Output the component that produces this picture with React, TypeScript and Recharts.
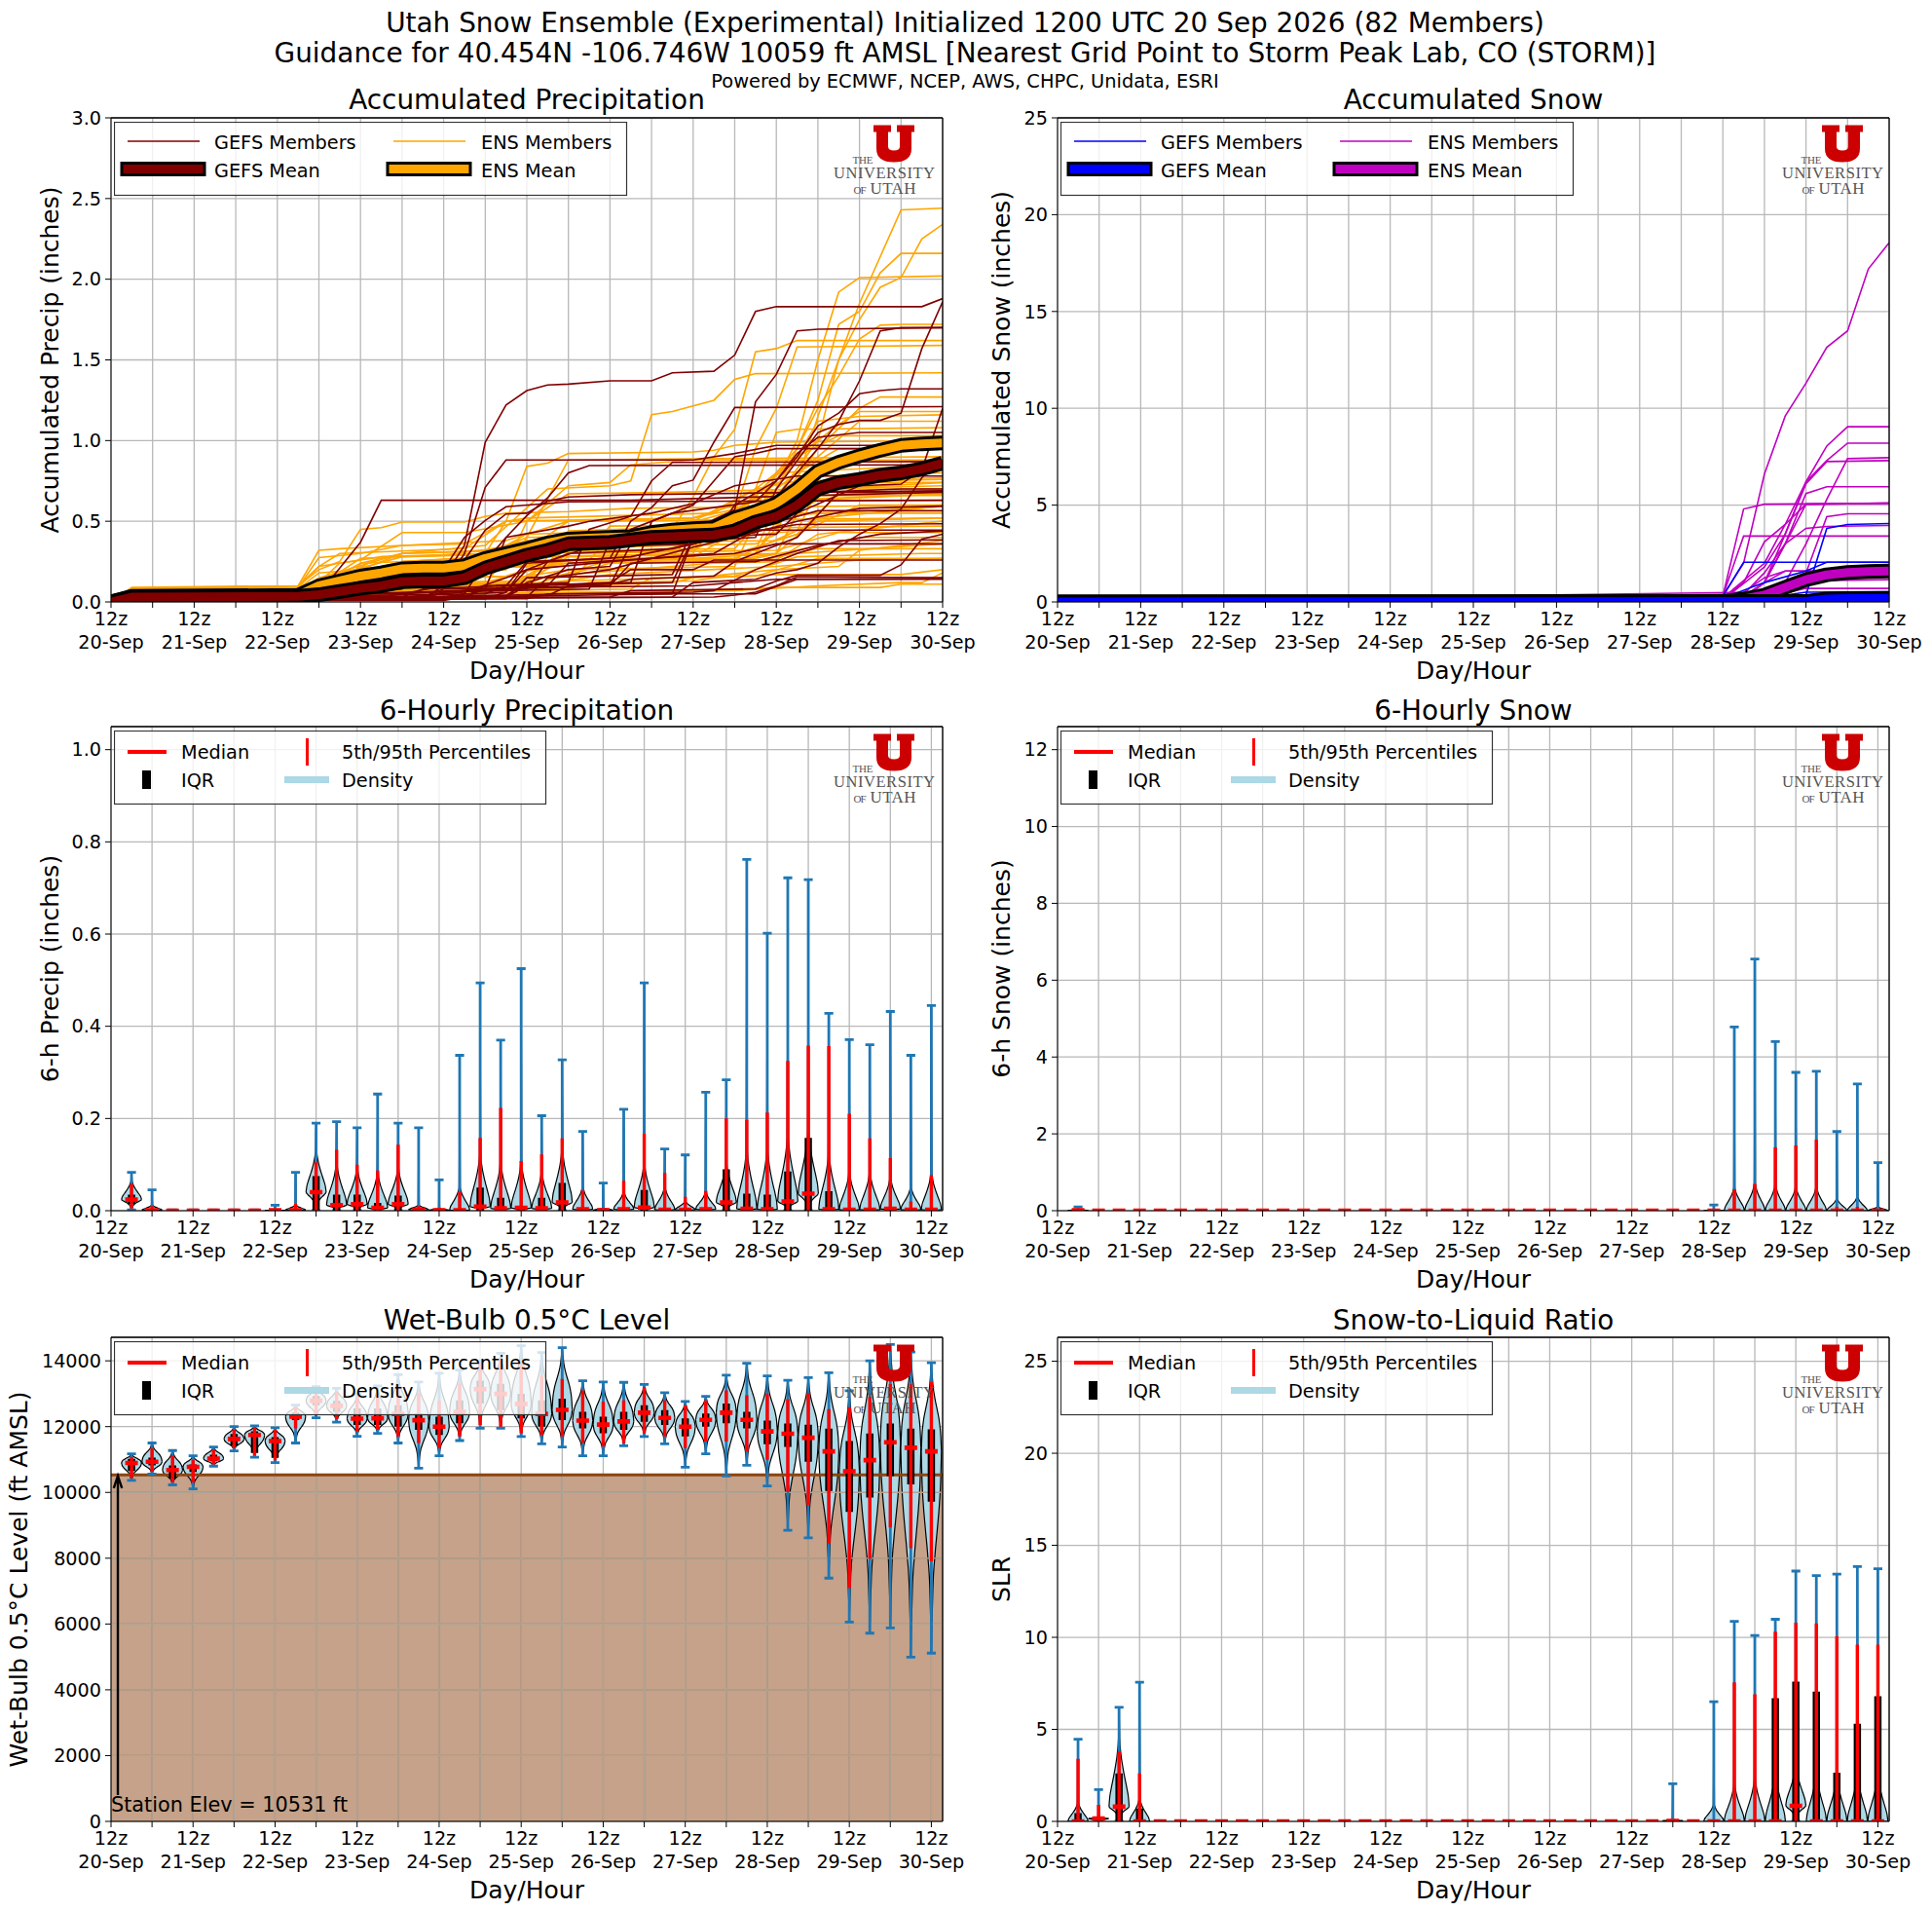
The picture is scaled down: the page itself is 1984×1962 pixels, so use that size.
import React from 'react';
import {
  ComposedChart,
  Line,
  Area,
  XAxis,
  YAxis,
  CartesianGrid,
  ReferenceLine,
  ReferenceArea,
} from 'recharts';

const FONT = '"DejaVu Sans", sans-serif';

const dayLabels = ['20-Sep', '21-Sep', '22-Sep', '23-Sep', '24-Sep', '25-Sep', '26-Sep', '27-Sep', '28-Sep', '29-Sep', '30-Sep'];
const xTicks = [0, 12, 24, 36, 48, 60, 72, 84, 96, 108, 120, 132, 144, 156, 168, 180, 192, 204, 216, 228, 240];
const hours = [6, 12, 18, 24, 30, 36, 42, 48, 54, 60, 66, 72, 78, 84, 90, 96, 102, 108, 114, 120, 126, 132, 138, 144, 150, 156, 162, 168, 174, 180, 186, 192, 198, 204, 210, 216, 222, 228, 234, 240];

// members are flat lists: hour, value, hour, value...
const gefsPrecip = [
  [0, 0, 6, .03, 54, .03, 60, .06, 72, .1, 96, .15, 102, .35, 108, .99, 114, 1.22, 120, 1.31, 126, 1.345, 132, 1.35, 144, 1.37, 156, 1.37, 162, 1.42, 174, 1.43, 180, 1.53, 186, 1.8, 192, 1.83, 234, 1.83, 240, 1.88],
  [0, 0, 6, .03, 54, .03, 60, .05, 72, .37, 78, .63, 150, .63, 240, .68],
  [0, 0, 6, .02, 90, .02, 96, .1, 102, .3, 108, .71, 114, .88, 168, .88, 180, .92, 192, .97, 240, .97],
  [0, 0, 6, .02, 84, .03, 90, .08, 114, .1, 120, .25, 144, .27, 150, .5, 156, .585, 162, .72, 168, .755, 174, .99, 180, 1.205, 240, 1.21],
  [0, 0, 6, .01, 114, .02, 120, .15, 162, .17, 168, .45, 180, .57, 186, 1.24, 192, 1.41, 198, 1.68, 204, 1.69, 240, 1.7],
  [0, 0, 6, .02, 90, .03, 96, .08, 144, .1, 150, .36, 186, .4, 192, .7, 204, 1.05, 210, 1.1, 216, 1.125, 222, 1.125, 228, 1.17, 234, 1.57, 240, 1.86],
  [0, 0, 6, .02, 60, .02, 66, .05, 138, .08, 144, .38, 174, .42, 180, .6, 192, .75, 198, .9, 204, 1.09, 210, 1.17, 216, 1.29, 222, 1.31, 228, 1.32, 240, 1.32],
  [0, 0, 6, .03, 102, .03, 108, .1, 162, .12, 168, .4, 186, .43, 192, .65, 204, .95, 210, 1.12, 216, 1.37, 222, 1.68, 228, 1.7, 240, 1.7],
  [0, 0, 6, .01, 96, .01, 102, .03, 162, .05, 168, .4, 192, .42, 198, .55, 216, .72, 228, .73, 234, .82, 240, 1.2],
  [0, 0, 6, .03, 96, .03, 102, .05, 108, .25, 114, .4, 120, .535, 126, .645, 132, .8, 138, .845, 240, .85],
  [0, 0, 6, .04, 54, .04, 60, .07, 84, .08, 90, .2, 96, .2, 102, .4, 108, .505, 114, .59, 132, .62, 240, .63],
  [0, 0, 6, .03, 78, .03, 84, .05, 96, .1, 102, .26, 108, .445, 114, .545, 120, .55, 126, .625, 132, .65, 150, .665, 240, .69],
  [0, 0, 6, .02, 90, .02, 96, .06, 108, .08, 114, .4, 132, .47, 138, .5, 156, .55, 168, .61, 180, .72, 198, .78, 240, .78],
  [0, 0, 6, .02, 102, .02, 108, .1, 132, .12, 138, .45, 150, .53, 156, .75, 162, .865, 240, .87],
  [0, 0, 6, .01, 174, .03, 180, .042, 186, .06, 192, .1, 198, .155, 240, .15],
  [0, 0, 6, .02, 144, .03, 150, .07, 186, .08, 192, .13, 198, .165, 222, .165, 228, .23, 234, .39, 240, .42],
  [0, 0, 6, .02, 162, .03, 168, .12, 186, .14, 192, .18, 198, .2, 204, .24, 210, .34, 216, .42, 222, .485, 228, .575, 234, .77, 240, .88],
  [0, 0, 6, .03, 114, .03, 120, .1, 144, .12, 150, .2, 168, .2, 174, .26, 240, .26],
  [0, 0, 6, .03, 102, .03, 108, .08, 126, .1, 132, .24, 156, .27, 180, .3, 192, .36, 240, .36],
  [0, 0, 6, .02, 108, .02, 114, .06, 120, .2, 144, .25, 174, .3, 186, .445, 240, .445],
  [0, 0, 6, .03, 84, .03, 90, .04, 102, .06, 114, .15, 132, .3, 162, .33, 180, .42, 198, .48, 240, .484],
  [0, 0, 6, .02, 96, .02, 102, .05, 114, .06, 120, .24, 150, .28, 168, .36, 186, .46, 204, .565, 240, .565],
  [0, 0, 6, .03, 66, .03, 72, .04, 108, .05, 114, .1, 144, .11, 150, .14, 174, .16, 180, .25, 198, .4, 210, .68, 240, .686],
  [0, 0, 6, .02, 54, .02, 60, .03, 72, .05, 84, .05, 120, .09, 168, .1, 192, .14, 240, .143],
  [0, 0, 6, .02, 120, .02, 126, .05, 168, .06, 174, .07, 186, .2, 198, .3, 210, .38, 240, .385],
  [0, 0, 6, .01, 60, .01, 66, .02, 120, .03, 126, .15, 144, .2, 168, .34, 180, .4, 198, .5, 216, .58, 240, .594],
  [0, 0, 6, .02, 84, .02, 90, .03, 114, .04, 120, .12, 132, .2, 144, .22, 150, .45, 162, .55, 186, .62, 192, .75, 198, .92, 204, 1.02, 216, 1.05, 240, 1.05],
  [0, 0, 6, .02, 102, .02, 108, .03, 126, .04, 132, .1, 150, .12, 156, .5, 168, .6, 174, .75, 180, .9, 186, .92, 192, .95, 240, .95],
  [0, 0, 6, .02, 54, .02, 60, .03, 72, .05, 114, .08, 144, .1, 150, .24, 186, .25, 204, .35, 222, .42, 240, .44],
  [0, 0, 6, .03, 90, .03, 96, .06, 120, .08, 126, .25, 138, .34, 168, .36, 192, .5, 204, .68, 228, .7, 240, .7],
  [0, 0, 6, .01, 48, .01, 60, .02, 132, .05, 186, .05, 198, .14, 240, .14],
];

const ensPrecip = [
  [0, 0, 6, .08, 54, .1, 60, .22, 66, .3, 102, .33, 114, .5, 120, .52, 174, .55, 186, .7, 198, .9, 204, 1, 210, 1.5, 216, 1.85, 222, 2.14, 228, 2.43, 240, 2.44],
  [0, 0, 6, .08, 54, .1, 60, .32, 66, .33, 84, .35, 102, .36, 114, .5, 168, .52, 186, .6, 198, .75, 204, 1.15, 210, 1.5, 216, 1.75, 222, 1.95, 228, 2.01, 234, 2.25, 240, 2.34],
  [0, 0, 6, .06, 54, .08, 60, .18, 72, .2, 84, .3, 108, .32, 120, .38, 156, .4, 174, .45, 186, .65, 198, .95, 204, 1.25, 210, 1.72, 216, 1.8, 222, 2.04, 228, 2.16, 240, 2.16],
  [0, 0, 6, .05, 54, .08, 66, .15, 78, .28, 108, .3, 120, .4, 168, .42, 186, .6, 192, .75, 198, 1, 204, 1.5, 210, 1.92, 216, 2.01, 240, 2.02],
  [0, 0, 6, .05, 54, .06, 60, .1, 72, .2, 102, .22, 114, .25, 168, .28, 186, .5, 192, .7, 204, 1.2, 210, 1.4, 216, 1.63, 222, 1.715, 228, 1.72, 240, 1.72],
  [0, 0, 6, .07, 54, .07, 60, .12, 84, .25, 108, .28, 120, .42, 162, .45, 168, .65, 174, .9, 180, 1.07, 186, 1.55, 192, 1.57, 198, 1.62, 240, 1.62],
  [0, 0, 6, .06, 54, .06, 60, .15, 84, .3, 108, .35, 126, .7, 144, .72, 150, .75, 156, 1.16, 162, 1.18, 168, 1.215, 174, 1.25, 180, 1.38, 186, 1.415, 240, 1.42],
  [0, 0, 6, .05, 54, .05, 66, .12, 102, .14, 120, .3, 168, .32, 180, .55, 186, .95, 192, 1.2, 198, 1.58, 240, 1.59],
  [0, 0, 6, .04, 54, .04, 72, .1, 120, .12, 132, .3, 186, .32, 192, .6, 204, .95, 216, 1.2, 222, 1.27, 240, 1.27],
  [0, 0, 6, .05, 54, .05, 66, .08, 108, .1, 114, .3, 168, .32, 180, .45, 192, .65, 204, 1, 210, 1.1, 216, 1.18, 240, 1.18],
  [0, 0, 6, .05, 54, .05, 60, .1, 84, .2, 126, .22, 132, .35, 174, .38, 180, .55, 198, .9, 204, 1.12, 216, 1.15, 240, 1.16],
  [0, 0, 6, .04, 66, .04, 72, .1, 120, .12, 126, .28, 168, .3, 174, .5, 192, .7, 204, .9, 216, 1.12, 240, 1.12],
  [0, 0, 6, .06, 54, .06, 60, .12, 90, .14, 96, .24, 138, .26, 144, .4, 180, .42, 186, .7, 192, 1.05, 198, 1.07, 240, 1.08],
  [0, 0, 6, .05, 60, .05, 66, .12, 102, .14, 108, .25, 162, .27, 168, .45, 192, .7, 198, .9, 210, 1.03, 240, 1.03],
  [0, 0, 6, .06, 54, .06, 60, .14, 84, .28, 126, .3, 132, .4, 174, .42, 180, .6, 198, .8, 210, .95, 240, .95],
  [0, 0, 6, .05, 54, .05, 60, .1, 90, .12, 96, .2, 108, .3, 114, .5, 120, .84, 126, .86, 132, .92, 168, .93, 174, .94, 180, .97, 186, .98, 192, .99, 240, 1],
  [0, 0, 6, .05, 60, .05, 66, .1, 90, .12, 96, .18, 114, .2, 120, .4, 132, .88, 240, .9],
  [0, 0, 6, .07, 54, .07, 60, .1, 84, .12, 90, .2, 114, .22, 120, .5, 132, .72, 144, .74, 150, .85, 168, .88, 240, .88],
  [0, 0, 6, .09, 54, .1, 60, .2, 66, .25, 72, .45, 78, .46, 84, .495, 102, .495, 108, .53, 114, .55, 132, .56, 150, .58, 240, .6],
  [0, 0, 6, .08, 54, .09, 60, .275, 72, .3, 84, .35, 114, .38, 132, .5, 240, .52],
  [0, 0, 6, .08, 54, .09, 60, .22, 72, .26, 84, .43, 102, .43, 120, .5, 132, .67, 162, .68, 240, .72],
  [0, 0, 6, .07, 54, .07, 60, .12, 66, .24, 78, .28, 120, .3, 138, .32, 180, .33, 192, .62, 240, .67],
  [0, 0, 6, .06, 54, .06, 60, .1, 72, .24, 84, .3, 120, .32, 132, .5, 168, .52, 192, .68, 240, .74],
  [0, 0, 6, .06, 54, .06, 60, .1, 78, .2, 120, .22, 126, .25, 150, .27, 186, .3, 204, .78, 240, .8],
  [0, 0, 6, .05, 60, .05, 66, .1, 84, .14, 120, .16, 132, .2, 180, .22, 192, .8, 240, .85],
  [0, 0, 6, .05, 66, .05, 72, .1, 108, .12, 132, .26, 168, .27, 192, .3, 198, .54, 240, .59],
  [0, 0, 6, .06, 72, .06, 78, .12, 120, .13, 132, .28, 192, .3, 204, .52, 240, .594],
  [0, 0, 6, .04, 54, .04, 60, .06, 84, .1, 132, .12, 138, .25, 180, .27, 204, .5, 240, .52],
  [0, 0, 6, .05, 78, .05, 84, .08, 120, .1, 144, .24, 192, .26, 204, .42, 240, .5],
  [0, 0, 6, .04, 66, .04, 72, .06, 114, .08, 132, .3, 192, .32, 210, .43, 240, .43],
  [0, 0, 6, .05, 90, .05, 96, .07, 120, .08, 126, .14, 144, .26, 186, .27, 216, .4, 240, .4],
  [0, 0, 6, .04, 78, .04, 84, .06, 126, .08, 132, .1, 162, .12, 168, .15, 192, .2, 210, .22, 216, .32, 240, .38],
  [0, 0, 6, .05, 60, .05, 66, .07, 114, .09, 126, .24, 186, .25, 204, .33, 240, .33],
  [0, 0, 6, .04, 84, .04, 90, .06, 126, .08, 132, .13, 180, .16, 198, .28, 234, .3, 240, .3],
  [0, 0, 6, .03, 72, .03, 78, .05, 120, .06, 126, .07, 150, .08, 156, .15, 186, .16, 204, .27, 240, .27],
  [0, 0, 6, .03, 84, .03, 90, .05, 156, .06, 192, .09, 222, .09, 228, .11, 240, .11],
  [0, 0, 6, .03, 90, .03, 96, .05, 180, .07, 204, .1, 228, .12, 234, .12, 240, .18],
  [0, 0, 6, .04, 54, .04, 60, .1, 72, .27, 96, .29, 114, .34, 138, .37, 192, .38, 198, .42, 210, .67, 240, .68],
  [0, 0, 6, .05, 54, .05, 60, .08, 72, .16, 108, .18, 126, .35, 162, .37, 198, .44, 204, .7, 240, .7],
  [0, 0, 6, .04, 60, .04, 72, .16, 90, .18, 108, .2, 114, .31, 144, .34, 186, .36, 192, .42, 198, .74, 240, .76],
  [0, 0, 6, .05, 72, .05, 78, .2, 96, .22, 120, .25, 144, .27, 150, .29, 186, .3, 192, .5, 204, .63, 240, .63],
  [0, 0, 6, .04, 60, .04, 66, .12, 84, .25, 102, .27, 126, .3, 132, .42, 162, .44, 168, .5, 186, .7, 198, .75, 240, .77],
  [0, 0, 6, .05, 66, .05, 72, .24, 96, .26, 126, .28, 132, .44, 162, .46, 186, .6, 204, .74, 240, .74],
  [0, 0, 6, .06, 54, .06, 60, .09, 78, .16, 102, .18, 108, .3, 120, .32, 126, .4, 150, .43, 186, .45, 204, .64, 240, .67],
  [0, 0, 6, .05, 60, .05, 66, .1, 102, .12, 120, .28, 180, .3, 198, .42, 216, .6, 240, .6],
  [0, 0, 6, .03, 66, .03, 72, .08, 120, .1, 144, .17, 192, .22, 216, .26, 240, .27],
  [0, 0, 6, .04, 78, .04, 84, .1, 120, .11, 126, .16, 150, .2, 174, .24, 192, .25, 198, .3, 240, .36],
  [0, 0, 6, .03, 72, .03, 78, .07, 132, .08, 138, .12, 168, .13, 174, .15, 192, .17, 228, .17, 240, .2],
  [0, 0, 6, .05, 54, .05, 60, .08, 84, .16, 108, .18, 114, .22, 126, .24, 132, .37, 174, .38, 192, .46, 240, .47],
  [0, 0, 6, .04, 60, .04, 66, .09, 96, .15, 114, .16, 120, .2, 132, .24, 180, .26, 192, .3, 198, .55, 240, .55],
  [0, 0, 6, .06, 54, .06, 60, .11, 84, .22, 114, .24, 120, .3, 138, .32, 144, .47, 192, .48, 204, .66, 240, .66],
];

const gefsPrecipMean = [0, .0, 6, .03, 54, .035, 60, .045, 66, .065, 72, .085, 78, .1, 84, .125, 90, .13, 96, .13, 102, .15, 108, .21, 114, .25, 120, .29, 126, .32, 132, .36, 138, .365, 144, .37, 150, .385, 156, .4, 162, .405, 168, .41, 174, .415, 180, .44, 186, .495, 192, .53, 198, .6, 204, .7, 210, .74, 216, .76, 222, .785, 228, .8, 234, .825, 240, .86];
const ensPrecipMean = [0, .0, 6, .035, 54, .04, 60, .1, 66, .13, 72, .16, 78, .18, 84, .205, 90, .21, 96, .21, 102, .225, 108, .27, 114, .3, 120, .33, 126, .365, 132, .39, 138, .395, 144, .4, 150, .405, 156, .43, 162, .445, 168, .455, 174, .46, 180, .52, 186, .56, 192, .61, 198, .7, 204, .81, 210, .865, 216, .905, 222, .94, 228, .97, 234, .98, 240, .985];

const gefsSnow = [
  [0, 0, 192, .3, 198, 2.05, 240, 2.05],
  [0, 0, 216, .35, 222, 3.8, 228, 4, 240, 4.05],
  [0, 0, 192, .2, 204, 1, 216, 1.6, 222, 2.05, 240, 2.05],
  [0, 0, 204, .2, 216, .5, 240, .52],
  [0, 0, 210, .1, 222, .3, 240, .3],
  [0, 0, 216, .1, 228, .2, 240, .2],
];
const ensSnow = [
  [0, 0, 192, .3, 198, 2, 204, 6.6, 210, 9.6, 216, 11.3, 222, 13.15, 228, 14, 234, 17.2, 240, 18.55],
  [0, 0, 192, .2, 204, 2, 210, 4, 216, 6.2, 222, 8.05, 228, 9.05, 240, 9.05],
  [0, 0, 192, .1, 204, 1.8, 210, 3.5, 216, 6.2, 222, 7.3, 228, 8.2, 240, 8.2],
  [0, 0, 204, .2, 210, 1, 216, 3, 222, 5.3, 228, 7.4, 240, 7.45],
  [0, 0, 198, .2, 204, 1, 210, 3.5, 216, 6.1, 222, 7.25, 240, 7.3],
  [0, 0, 198, .2, 204, 1, 210, 3, 216, 5.6, 222, 5.95, 240, 5.95],
  [0, 0, 192, .3, 198, 4.8, 204, 5.05, 240, 5.1],
  [0, 0, 198, .2, 204, 1, 210, 3, 216, 5.05, 240, 5.1],
  [0, 0, 204, .2, 216, 1.5, 222, 4.4, 228, 4.55, 240, 4.55],
  [0, 0, 198, .4, 204, 1.5, 210, 3, 216, 3.8, 222, 3.9, 240, 3.95],
  [0, 0, 192, .3, 198, 3.4, 240, 3.4],
  [0, 0, 192, .2, 198, 1, 204, 3.1, 210, 4, 216, 5.05, 240, 5.1],
  [0, 0, 198, .3, 204, 1, 210, 1.6, 240, 1.6],
  [0, 0, 198, .2, 204, .5, 216, 1.1, 240, 1.15],
  [0, 0, 204, .2, 216, .7, 240, .7],
  [0, 0, 204, .1, 216, .35, 240, .35],
  [0, 0, 198, .5, 204, 1.25, 210, 1.6, 222, 1.6, 240, 1.6],
];
const gefsSnowMean = [0, 0, 216, .03, 222, .15, 228, .18, 240, .19];
const ensSnowMean = [0, 0, 192, .02, 198, .15, 204, .35, 210, .75, 216, 1.15, 222, 1.4, 228, 1.52, 234, 1.57, 240, 1.6];

const precipLo = [.002, 0, 0, 0, 0, 0, 0, 0, 0, 0, 0, 0, 0, 0, 0, 0, 0, 0, 0, 0, 0, 0, 0, 0, 0, 0, 0, 0, 0, 0, 0, 0, 0, 0, 0, 0, 0, 0, 0, 0];
const precipHi = [.083, .045, .002, .002, .002, .002, .002, .012, .083, .19, .193, .18, .253, .19, .18, .067, .337, .494, .37, .525, .206, .327, .172, .06, .22, .494, .134, .121, .257, .284, .762, .602, .722, .718, .428, .371, .36, .432, .337, .445];
const precipQ1 = [.015, 0, 0, 0, 0, 0, 0, 0, 0, .001, 0, 0, 0, 0, 0, 0, 0, 0, 0, 0, 0, 0, 0, 0, 0, 0, 0, 0, 0, 0, 0, 0, 0, 0, 0, 0, 0, 0, 0, 0];
const precipQ3 = [.035, .001, 0, 0, 0, 0, 0, 0, .001, .075, .035, .035, .017, .033, .002, .001, .003, .05, .028, .007, .028, .06, .006, .001, .003, .045, .005, .001, .004, .09, .037, .035, .085, .158, .042, .003, .002, .006, .002, .002];
const precipMed = [.024, .001, 0, 0, 0, 0, 0, .001, .001, .04, .012, .014, .006, .014, .002, .001, .001, .009, .005, .006, .005, .018, .003, .001, .003, .007, .002, .002, .003, .018, .004, .003, .02, .037, .003, .002, .002, .004, .002, .002];
const precipP5 = [.005, 0, 0, 0, 0, 0, 0, 0, 0, 0, 0, 0, 0, 0, 0, 0, 0, 0, 0, 0, 0, 0, 0, 0, 0, 0, 0, 0, 0, 0, 0, 0, 0, 0, 0, 0, 0, 0, 0, 0];
const precipP95 = [.058, .01, 0, 0, 0, 0, 0, .002, .015, .105, .132, .1, .087, .143, .01, .006, .04, .158, .223, .108, .122, .157, .044, .004, .065, .167, .082, .03, .043, .2, .197, .213, .325, .358, .357, .21, .157, .114, .02, .077];
const precipBody = [.065, .012, 0, 0, 0, 0, 0, .001, .012, .13, .1, .09, .08, .09, .012, .005, .05, .12, .1, .1, .08, .13, .05, .006, .04, .1, .05, .02, .04, .1, .13, .13, .16, .17, .12, .08, .08, .07, .05, .08];

const snowLo = [0, 0, 0, 0, 0, 0, 0, 0, 0, 0, 0, 0, 0, 0, 0, 0, 0, 0, 0, 0, 0, 0, 0, 0, 0, 0, 0, 0, 0, 0, 0, 0, 0, 0, 0, 0, 0, 0, 0, 0];
const snowHi = [.1, 0, 0, 0, 0, 0, 0, 0, 0, 0, 0, 0, 0, 0, 0, 0, 0, 0, 0, 0, 0, 0, 0, 0, 0, 0, 0, 0, 0, 0, 0, .15, 4.78, 6.55, 4.4, 3.6, 3.63, 2.06, 3.3, 1.25];
const snowQ3 = [0, 0, 0, 0, 0, 0, 0, 0, 0, 0, 0, 0, 0, 0, 0, 0, 0, 0, 0, 0, 0, 0, 0, 0, 0, 0, 0, 0, 0, 0, 0, 0, 0, .02, .02, .02, .02, .02, .02, .02];
const snowMed = [.01, 0, 0, 0, 0, 0, 0, 0, 0, 0, 0, 0, 0, 0, 0, 0, 0, 0, 0, 0, 0, 0, 0, 0, 0, 0, 0, 0, 0, 0, 0, 0, 0, 0, 0, 0, 0, 0, 0, 0];
const snowP95 = [.02, 0, 0, 0, 0, 0, 0, 0, 0, 0, 0, 0, 0, 0, 0, 0, 0, 0, 0, 0, 0, 0, 0, 0, 0, 0, 0, 0, 0, 0, 0, 0, .55, .7, 1.65, 1.7, 1.85, .1, .1, .05];
const snowBody = [.02, 0, 0, 0, 0, 0, 0, 0, 0, 0, 0, 0, 0, 0, 0, 0, 0, 0, 0, 0, 0, 0, 0, 0, 0, 0, 0, 0, 0, 0, 0, .02, .6, .7, .65, .6, .6, .3, .35, .1];

const wetLo = [10364, 10558, 10230, 10109, 10800, 11261, 11067, 10909, 11503, 12267, 12133, 11709, 11794, 11503, 10739, 11115, 11576, 11952, 11952, 11697, 11479, 11382, 11115, 11115, 11418, 11697, 11479, 10764, 11176, 10497, 10824, 10194, 8848, 8618, 7394, 6061, 5721, 5879, 4994, 5115];
const wetHi = [11176, 11503, 11273, 11115, 11382, 12000, 12024, 11964, 12655, 13212, 13164, 12980, 13236, 13576, 13358, 13624, 13721, 14000, 14230, 14460, 14255, 14400, 13394, 13358, 13345, 13285, 13030, 12764, 12921, 13564, 13927, 13539, 13406, 13491, 13636, 13091, 14000, 14497, 14267, 13939];
const wetQ1 = [10650, 10820, 10420, 10620, 10950, 11430, 11200, 11050, 12200, 12650, 12450, 12050, 12050, 12000, 11900, 11750, 12100, 12700, 12500, 12250, 12000, 12200, 11950, 11800, 11900, 12150, 12050, 11700, 12000, 12100, 11950, 11467, 11382, 10933, 10048, 9406, 9842, 10497, 10242, 9721];
const wetQ3 = [11020, 11060, 10820, 10850, 11150, 11780, 11860, 11680, 12430, 12930, 12780, 12550, 12550, 12650, 12400, 12300, 12800, 13400, 13300, 13000, 12800, 12850, 12450, 12300, 12450, 12650, 12500, 12250, 12400, 12700, 12450, 12182, 12097, 12060, 11940, 11564, 11794, 12097, 11940, 11915];
const wetMed = [10897, 10933, 10679, 10776, 11030, 11624, 11745, 11564, 12303, 12788, 12630, 12242, 12255, 12388, 12194, 12000, 12448, 13139, 12994, 12691, 12388, 12509, 12182, 12061, 12158, 12424, 12267, 12000, 12206, 12424, 12206, 11855, 11782, 11661, 11248, 10642, 10982, 11527, 11358, 11248];
const wetP5 = [10430, 10620, 10300, 10300, 10850, 11350, 11120, 10980, 11950, 12350, 12230, 11850, 11900, 11700, 11500, 11350, 11700, 12050, 12000, 11800, 11750, 11700, 11500, 11400, 11500, 11800, 11700, 11350, 11550, 11550, 11250, 10994, 10012, 9624, 8448, 7090, 7988, 8933, 8303, 7903];
const wetP95 = [11080, 11350, 11120, 10990, 11300, 11900, 11980, 11900, 12600, 13080, 13050, 12900, 13000, 13200, 13000, 12800, 13300, 13950, 14050, 13900, 13550, 13450, 13100, 12750, 12800, 13200, 12800, 12650, 12800, 13100, 12950, 12994, 12836, 13018, 12533, 12594, 12909, 13297, 13285, 13358];

const slrLo = [0, 0, 0, 0, 0, 0, 0, 0, 0, 0, 0, 0, 0, 0, 0, 0, 0, 0, 0, 0, 0, 0, 0, 0, 0, 0, 0, 0, 0, 0, 0, 0, 0, 0, 0, 0, 0, 0, 0, 0];
const slrHi = [4.46, 1.73, 6.2, 7.56, 0, 0, 0, 0, 0, 0, 0, 0, 0, 0, 0, 0, 0, 0, 0, 0, 0, 0, 0, 0, 0, 0, 0, 0, 0, 2.04, 0, 6.5, 10.87, 10.1, 10.98, 13.6, 13.36, 13.43, 13.84, 13.73];
const slrQ3 = [.45, 0, 2.6, .7, 0, 0, 0, 0, 0, 0, 0, 0, 0, 0, 0, 0, 0, 0, 0, 0, 0, 0, 0, 0, 0, 0, 0, 0, 0, 0, 0, 0, 0, 0, 6.7, 7.6, 7.05, 2.65, 5.3, 6.8];
const slrMed = [0, .15, .8, 0, 0, 0, 0, 0, 0, 0, 0, 0, 0, 0, 0, 0, 0, 0, 0, 0, 0, 0, 0, 0, 0, 0, 0, 0, 0, .03, 0, 0, 0, 0, 0, .85, 0, 0, 0, 0];
const slrP95 = [3.4, .9, 3.8, 2.6, 0, 0, 0, 0, 0, 0, 0, 0, 0, 0, 0, 0, 0, 0, 0, 0, 0, 0, 0, 0, 0, 0, 0, 0, 0, .05, 0, .1, 7.55, 6.9, 10.3, 10.8, 10.75, 10.05, 9.6, 9.6];
const slrBody = [1, .2, 4.5, 1.2, 0, 0, 0, 0, 0, 0, 0, 0, 0, 0, 0, 0, 0, 0, 0, 0, 0, 0, 0, 0, 0, 0, 0, 0, 0, .1, 0, .9, 2, 2.3, 2.6, 3, 2.6, 2.4, 2.5, 2.5];

const stationElev = 10531;
const arrowShaft = [{ x: 2, y: 800 }, { x: 2, y: 10400 }];
const arrowHead = [{ x: .8, y: 10130 }, { x: 2, y: 10500 }, { x: 3.2, y: 10130 }];
const wetGridX = [12, 24, 36, 48, 60, 72, 84, 96, 108, 120, 132, 144, 156, 168, 180, 192, 204, 216, 228, 240];
const wetGridY = [2000, 4000, 6000, 8000, 10000];

// violin outline, as fractions of the half width and of the distance from the widest level
const widthSteps = [0, .06, .15, .35, .6, .8, .93, 1];
const spikeTop = [1, 1, .82, .6, .4, .25, .13, 0];
const spikeBottom = [1, .85, .6, .4, .24, .14, .06, 0];
const spindleTop = [1, .9, .76, .6, .46, .33, .18, 0];
const spindleBottom = [1, .85, .68, .52, .38, .26, .14, 0];

const toPoints = (flat: number[]) => {
  const out: { x: number; y: number }[] = [];
  for (let i = 0; i < flat.length; i += 2) out.push({ x: flat[i], y: flat[i + 1] });
  return out;
};

type ViolinSet = {
  lo: number[]; hi: number[]; q1: number[]; q3: number[]; med: number[]; p5: number[]; p95: number[];
  body?: number[]; spindle?: boolean;
};

const buildOutlines = (s: ViolinSet) => {
  const rows: { x: number; r: (number | null)[] }[] = [];
  const last = widthSteps.length - 1;
  hours.forEach((h, i) => {
    const hi = s.hi[i], lo = s.lo[i], peak = s.med[i];
    const body = s.spindle ? hi : (s.body as number[])[i];
    if (body <= 0) return;
    const half = 2.95;
    const top = s.spindle ? spindleTop : spikeTop;
    const bottom = s.spindle ? spindleBottom : spikeBottom;
    for (let k = -last; k <= last; k++) {
      const a = Math.abs(k);
      const sign = k < 0 ? -1 : 1;
      const upper = a === 0 ? hi : peak + (body - peak) * top[a];
      const lower = peak - (peak - lo) * bottom[a];
      rows.push({ x: h + sign * widthSteps[a] * half, r: [lower, upper] });
    }
    rows.push({ x: h + 3, r: [null, null] });
  });
  return rows;
};

const segments = (pairs: [number, number, number, number][]) => {
  const rows: { x: number; y: number | null }[] = [];
  pairs.forEach(([x1, y1, x2, y2]) => {
    rows.push({ x: x1, y: y1 }, { x: x2, y: y2 }, { x: x2, y: null });
  });
  return rows;
};

const XTick = ({ x, y, payload }: any) => {
  if (payload.value % 24 !== 0) return <g />;
  return (
    <g fontFamily={FONT} fontSize={19.2} fill="#000" textAnchor="middle">
      <text x={x} y={y + 16}>12z</text>
      <text x={x} y={y + 40}>{dayLabels[payload.value / 24]}</text>
    </g>
  );
};

const PLOT_W = 854;
const PLOT_H = 497;
const AXIS_W = 114;
const MARGIN_TOP = 16;

function Frame({
  left, plotTop, xMax, yMax, yTicks, yLabel, labelX, tickFmt, children,
}: any) {
  return (
    <div style={{ position: 'absolute', left, top: plotTop - MARGIN_TOP }}>
      <ComposedChart
        width={AXIS_W + PLOT_W + 40}
        height={MARGIN_TOP + PLOT_H + 90}
        margin={{ top: MARGIN_TOP, right: 40, left: 0, bottom: 0 }}
      >
        <CartesianGrid stroke="#b8b8b8" strokeWidth={1.3} />
        <XAxis
          dataKey="x"
          type="number"
          domain={[0, xMax]}
          allowDataOverflow
          ticks={xTicks}
          interval={0}
          height={90}
          tick={XTick}
          tickSize={6}
          stroke="#000"
          label={{ value: 'Day/Hour', position: 'insideBottom', offset: 11.5, fontSize: 25, fontFamily: FONT, fill: '#000' }}
        />
        <YAxis
          type="number"
          domain={[0, yMax]}
          allowDataOverflow
          ticks={yTicks}
          interval={0}
          width={AXIS_W}
          tickSize={6}
          tickMargin={4}
          stroke="#000"
          tickFormatter={tickFmt}
          tick={{ fontSize: 19.2, fontFamily: FONT, fill: '#000' }}
          label={{
            value: yLabel, angle: -90, position: 'insideLeft', offset: labelX, fontSize: 25, fontFamily: FONT, fill: '#000',
            style: { textAnchor: 'middle' },
          }}
        />
        {children}
        <ReferenceLine x={xMax} stroke="#000" strokeWidth={1.3} />
        <ReferenceLine y={yMax} stroke="#000" strokeWidth={1.3} />
      </ComposedChart>
    </div>
  );
}

const memberLines = (members: number[][], color: string, tag: string) =>
  members.map((m, i) => (
    <Line key={tag + i} data={toPoints(m)} dataKey="y" stroke={color} strokeWidth={1.6} dot={false} isAnimationActive={false} />
  ));

const meanLine = (mean: number[], color: string, tag: string) => [
  <Line key={tag + 'edge'} data={toPoints(mean)} dataKey="y" stroke="#000" strokeWidth={15} strokeLinejoin="round" dot={false} isAnimationActive={false} />,
  <Line key={tag + 'fill'} data={toPoints(mean)} dataKey="y" stroke={color} strokeWidth={9} strokeLinejoin="round" dot={false} isAnimationActive={false} />,
];

const violinMarks = (s: ViolinSet) => {
  const cap = 1.3;
  const medHalf = 1.85;
  const blue: [number, number, number, number][] = [];
  const iqr: [number, number, number, number][] = [];
  const range: [number, number, number, number][] = [];
  const med: [number, number, number, number][] = [];
  hours.forEach((h, i) => {
    if (s.hi[i] > s.lo[i]) {
      blue.push([h, s.lo[i], h, s.hi[i]], [h - cap, s.hi[i], h + cap, s.hi[i]], [h - cap, s.lo[i], h + cap, s.lo[i]]);
    }
    iqr.push([h, s.q1[i], h, s.q3[i]]);
    range.push([h, s.p5[i], h, s.p95[i]]);
    med.push([h - medHalf, s.med[i], h + medHalf, s.med[i]]);
  });
  return [
    <Area key="density" data={buildOutlines(s)} dataKey="r" type="monotoneX" fill="#add8e6" fillOpacity={1} stroke="#000" strokeWidth={1.2} dot={false} isAnimationActive={false} />,
    <Line key="extrema" data={segments(blue)} dataKey="y" stroke="#1f77b4" strokeWidth={2.8} dot={false} isAnimationActive={false} />,
    <Line key="iqr" data={segments(iqr)} dataKey="y" stroke="#000" strokeWidth={7.5} dot={false} isAnimationActive={false} />,
    <Line key="range" data={segments(range)} dataKey="y" stroke="#ff0000" strokeWidth={3.4} dot={false} isAnimationActive={false} />,
    <Line key="median" data={segments(med)} dataKey="y" stroke="#ff0000" strokeWidth={4.6} dot={false} isAnimationActive={false} />,
  ];
};

function MemberLegend({ left, top, c1, c2 }: any) {
  const txt = { fontFamily: FONT, fontSize: 19.3, fill: '#000', dominantBaseline: 'central' } as any;
  return (
    <svg width={530} height={80} style={{ position: 'absolute', left: left + 3, top: top + 4 }}>
      <rect x={.5} y={.5} width={526} height={75} fill="#fff" fillOpacity={.8} stroke="#333" strokeWidth={1.2} />
      <line x1={14} x2={88} y1={20} y2={20} stroke={c1} strokeWidth={1.6} />
      <line x1={287} x2={361} y1={20} y2={20} stroke={c2} strokeWidth={1.6} />
      <rect x={8} y={42.5} width={85} height={12} fill={c1} stroke="#000" strokeWidth={3} />
      <rect x={281} y={42.5} width={85} height={12} fill={c2} stroke="#000" strokeWidth={3} />
      <text x={103} y={21} {...txt}>GEFS Members</text>
      <text x={377} y={21} {...txt}>ENS Members</text>
      <text x={103} y={50} {...txt}>GEFS Mean</text>
      <text x={377} y={50} {...txt}>ENS Mean</text>
    </svg>
  );
}

function StatsLegend({ left, top }: any) {
  const txt = { fontFamily: FONT, fontSize: 19.3, fill: '#000', dominantBaseline: 'central' } as any;
  return (
    <svg width={450} height={80} style={{ position: 'absolute', left: left + 3, top: top + 4 }}>
      <rect x={.5} y={.5} width={443} height={75} fill="#fff" fillOpacity={.8} stroke="#333" strokeWidth={1.2} />
      <rect x={14} y={20} width={40} height={4} fill="#ff0000" />
      <rect x={29} y={41} width={9} height={19} fill="#000" />
      <rect x={197} y={8} width={3} height={28} fill="#ff0000" />
      <rect x={175} y={47} width={46} height={7} fill="#add8e6" />
      <text x={69} y={22} {...txt}>Median</text>
      <text x={69} y={51} {...txt}>IQR</text>
      <text x={234} y={22} {...txt}>5th/95th Percentiles</text>
      <text x={234} y={51} {...txt}>Density</text>
    </svg>
  );
}

function Logo({ left, top }: any) {
  return (
    <svg width={120} height={85} style={{ position: 'absolute', left: left + 738, top }}>
      <path
        transform="translate(45,7.5)"
        fill="#cc0000"
        d="M0 0H18V7H15V22Q15 26 21 26Q27 26 27 22V7H24V0H42V7H39V24Q39 38 21 38Q3 38 3 24V7H0Z"
      />
      <g fontFamily='"Liberation Serif", serif' fill="#555" textAnchor="middle">
        <text x={34} y={47} fontSize={11} textLength={21} lengthAdjust="spacing">THE</text>
        <text x={56} y={62} fontSize={16.5} textLength={104} lengthAdjust="spacing">UNIVERSITY</text>
        <text x={31} y={78} fontSize={11} textLength={13} lengthAdjust="spacing">OF</text>
        <text x={65} y={78} fontSize={17} textLength={47} lengthAdjust="spacing">UTAH</text>
      </g>
    </svg>
  );
}

const LEFT_PLOT = 114;
const RIGHT_PLOT = 1086;
const TOP_ROWS = [120.5, 746, 1372.5];
const X_MAX_ACC = 240;
const X_MAX_VIOLIN = 243.3;

const wetGridLines = segments([
  ...wetGridX.map((x) => [x, 0, x, stationElev] as [number, number, number, number]),
  ...wetGridY.map((y) => [0, y, X_MAX_VIOLIN, y] as [number, number, number, number]),
]);

export default function App() {
  const titleStyle = { fontFamily: FONT, fontSize: 27.9, fill: '#000', textAnchor: 'middle', dominantBaseline: 'central' } as any;
  return (
    <div style={{ position: 'relative', width: 1984, height: 1962, background: '#fff', overflow: 'hidden' }}>
      <style>{'body{margin:0}'}</style>

      <Frame left={0} plotTop={TOP_ROWS[0]} xMax={X_MAX_ACC} yMax={3} yTicks={[0, .5, 1, 1.5, 2, 2.5, 3]} yLabel="Accumulated Precip (inches)" labelX={51} tickFmt={(v: number) => v.toFixed(1)}>
        {memberLines(ensPrecip, '#ffa500', 'ens')}
        {memberLines(gefsPrecip, '#800000', 'gefs')}
        {meanLine(ensPrecipMean, '#ffa500', 'ensMean')}
        {meanLine(gefsPrecipMean, '#800000', 'gefsMean')}
      </Frame>
      <Frame left={972} plotTop={TOP_ROWS[0]} xMax={X_MAX_ACC} yMax={25} yTicks={[0, 5, 10, 15, 20, 25]} yLabel="Accumulated Snow (inches)" labelX={56}>
        {memberLines(ensSnow, '#c000c0', 'ens')}
        {memberLines(gefsSnow, '#0000ff', 'gefs')}
        {meanLine(ensSnowMean, '#c000c0', 'ensMean')}
        {meanLine(gefsSnowMean, '#0000ff', 'gefsMean')}
      </Frame>

      <Frame left={0} plotTop={TOP_ROWS[1]} xMax={X_MAX_VIOLIN} yMax={1.05} yTicks={[0, .2, .4, .6, .8, 1]} yLabel="6-h Precip (inches)" labelX={51} tickFmt={(v: number) => v.toFixed(1)}>
        {violinMarks({ lo: precipLo, hi: precipHi, q1: precipQ1, q3: precipQ3, med: precipMed, p5: precipP5, p95: precipP95, body: precipBody })}
      </Frame>
      <Frame left={972} plotTop={TOP_ROWS[1]} xMax={X_MAX_VIOLIN} yMax={12.6} yTicks={[0, 2, 4, 6, 8, 10, 12]} yLabel="6-h Snow (inches)" labelX={56}>
        {violinMarks({ lo: snowLo, hi: snowHi, q1: snowLo, q3: snowQ3, med: snowMed, p5: snowLo, p95: snowP95, body: snowBody })}
      </Frame>

      <Frame left={0} plotTop={TOP_ROWS[2]} xMax={X_MAX_VIOLIN} yMax={14715} yTicks={[0, 2000, 4000, 6000, 8000, 10000, 12000, 14000]} yLabel="Wet-Bulb 0.5°C Level (ft AMSL)" labelX={19}>
        <ReferenceArea y1={0} y2={stationElev} fill="#8b4513" fillOpacity={.5} stroke="none" />
        <Line data={wetGridLines} dataKey="y" stroke="#b0a497" strokeWidth={1.3} dot={false} isAnimationActive={false} />
        <ReferenceLine y={stationElev} stroke="#8b4513" strokeWidth={3} />
        {violinMarks({ lo: wetLo, hi: wetHi, q1: wetQ1, q3: wetQ3, med: wetMed, p5: wetP5, p95: wetP95, spindle: true })}
        <Line data={arrowShaft} dataKey="y" stroke="#000" strokeWidth={2.4} dot={false} isAnimationActive={false} />
        <Line data={arrowHead} dataKey="y" stroke="#000" strokeWidth={2.4} dot={false} isAnimationActive={false} />
      </Frame>
      <Frame left={972} plotTop={TOP_ROWS[2]} xMax={X_MAX_VIOLIN} yMax={26.3} yTicks={[0, 5, 10, 15, 20, 25]} yLabel="SLR" labelX={56}>
        {violinMarks({ lo: slrLo, hi: slrHi, q1: slrLo, q3: slrQ3, med: slrMed, p5: slrLo, p95: slrP95, body: slrBody })}
      </Frame>

      <MemberLegend left={LEFT_PLOT} top={TOP_ROWS[0]} c1="#800000" c2="#ffa500" />
      <MemberLegend left={RIGHT_PLOT} top={TOP_ROWS[0]} c1="#0000ff" c2="#c000c0" />
      <StatsLegend left={LEFT_PLOT} top={TOP_ROWS[1]} />
      <StatsLegend left={RIGHT_PLOT} top={TOP_ROWS[1]} />
      <StatsLegend left={LEFT_PLOT} top={TOP_ROWS[2]} />
      <StatsLegend left={RIGHT_PLOT} top={TOP_ROWS[2]} />

      {TOP_ROWS.map((t) => (
        <React.Fragment key={t}>
          <Logo left={LEFT_PLOT} top={t} />
          <Logo left={RIGHT_PLOT + 2} top={t} />
        </React.Fragment>
      ))}

      <svg width={1984} height={1962} style={{ position: 'absolute', left: 0, top: 0, pointerEvents: 'none' }}>
        <text x={991} y={23} {...titleStyle}>Utah Snow Ensemble (Experimental) Initialized 1200 UTC 20 Sep 2026 (82 Members)</text>
        <text x={991} y={54} {...titleStyle}>Guidance for 40.454N -106.746W 10059 ft AMSL [Nearest Grid Point to Storm Peak Lab, CO (STORM)]</text>
        <text x={991} y={83} {...titleStyle} fontSize={19.4}>Powered by ECMWF, NCEP, AWS, CHPC, Unidata, ESRI</text>
        <text x={541} y={102} {...titleStyle}>Accumulated Precipitation</text>
        <text x={1513} y={102} {...titleStyle}>Accumulated Snow</text>
        <text x={541} y={729} {...titleStyle}>6-Hourly Precipitation</text>
        <text x={1513} y={729} {...titleStyle}>6-Hourly Snow</text>
        <text x={541} y={1355} {...titleStyle}>Wet-Bulb 0.5°C Level</text>
        <text x={1513} y={1355} {...titleStyle}>Snow-to-Liquid Ratio</text>
        <text x={114} y={1853} fontFamily={FONT} fontSize={20.8} fill="#000" dominantBaseline="central">Station Elev = {stationElev} ft</text>
      </svg>
    </div>
  );
}
